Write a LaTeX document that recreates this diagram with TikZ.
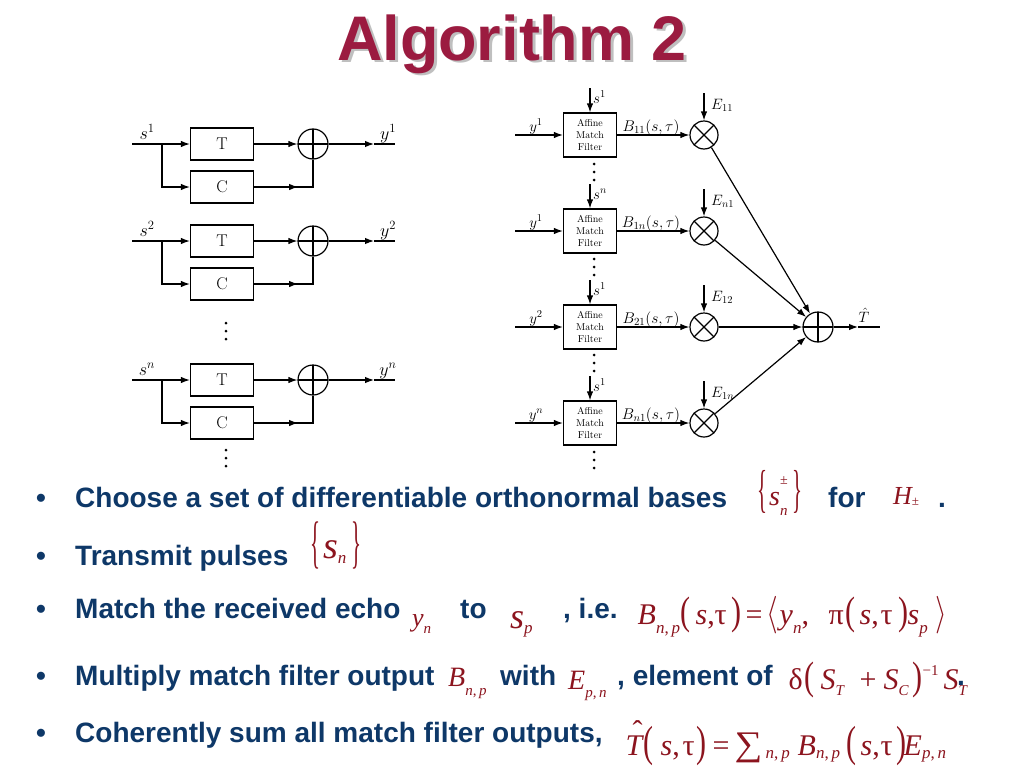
\RequirePackage{fix-cm}
\documentclass[tikz,border=0pt]{standalone}
\usepackage{fontspec}
\usepackage{amsmath}
\usepackage{graphicx}
\usetikzlibrary{arrows.meta,calc}
\newfontfamily\arl{Liberation Sans}
\newfontfamily\tms{Liberation Serif}
\definecolor{ttl}{RGB}{155,27,64}
\definecolor{blu}{RGB}{14,56,104}
\definecolor{mred}{RGB}{140,20,30}
\newcommand\fs[1]{\fontsize{#1}{#1}\selectfont}
\newcommand\I[1]{{\itshape #1}}
\newcommand\sbx[2][-0.35em]{\raisebox{#1}{\fs{15}#2}}
\newcommand\sbX[2][-0.3em]{\raisebox{#1}{\fs{17}#2}}
\newcommand\lpar{\raisebox{-0.03em}{\scalebox{1}[1.32]{(}}}
\newcommand\rpar{\raisebox{-0.03em}{\scalebox{1}[1.32]{)}}}
\newcommand\Lpar{\raisebox{-0.05em}{\scalebox{1}[1.45]{(}}}
\newcommand\Rpar{\raisebox{-0.05em}{\scalebox{1}[1.45]{)}}}
\newcommand\at[2]{\rlap{\hspace{#1pt}#2}}
\begin{document}
\begin{tikzpicture}[x=1pt,y=-1pt,
  ln/.style={line width=1.2pt},
  arr/.style={line width=1.2pt,-{Latex[length=9pt,width=6.5pt]}},
  blk/.style={draw,line width=1.2pt,minimum width=63pt,minimum height=32pt,inner sep=0,font=\fs{17}},
  amf/.style={draw,line width=1.2pt,minimum width=53pt,minimum height=44pt,inner sep=0,align=center,font=\fontsize{10}{12}\selectfont},
  sumc/.style={draw,line width=1.2pt,circle,minimum size=30pt,inner sep=0,
    path picture={\draw[line width=1.2pt] (path picture bounding box.north) -- (path picture bounding box.south) (path picture bounding box.west) -- (path picture bounding box.east);}},
  mulc/.style={draw,line width=1.2pt,circle,minimum size=28pt,inner sep=0,
    path picture={\draw[line width=1.2pt] (path picture bounding box.north west) -- (path picture bounding box.south east) (path picture bounding box.south west) -- (path picture bounding box.north east);}},
  labl/.style={anchor=base,inner sep=0,font=\fs{18}},
  labr/.style={anchor=base west,inner sep=0,font=\fs{15}},
  btxt/.style={anchor=base west,inner sep=0,text=blu,font=\fs{28}\arl\bfseries},
  bul/.style={anchor=base,inner sep=0,text=blu,font=\fs{28}\arl\bfseries},
  mth/.style={anchor=base west,inner sep=0,text=mred,font=\fs{26}\tms},
  mthL/.style={anchor=base west,inner sep=0,text=mred,font=\fs{30}\tms}
]
\useasboundingbox (0,0) rectangle (1024,768);
\fill[white] (0,0) rectangle (1024,768);
% title
\node[anchor=base,inner sep=0,text=black!25,font=\fs{63}\arl\bfseries] (titles) at (515,63) {Algorithm 2};
\node[anchor=base,inner sep=0,text=ttl,font=\fs{63}\arl\bfseries] (title) at (512,60) {Algorithm 2};
% left diagram
\foreach \r/\yt in {1/144,2/241,n/380}{
  \node[blk] (T\r) at (222,\yt) {T};
  \node[blk] (C\r) at (222,\yt+43) {C};
  \node[sumc] (P\r) at (313,\yt) {};
  \coordinate (in\r) at (132,\yt);
  \coordinate (br\r) at (162,\yt);
  \coordinate (m\r) at (374,\yt);
  \coordinate (out\r) at (395,\yt);
  \draw[ln] (in\r) -- (br\r);
  \draw[arr] (br\r) -- (T\r.west);
  \draw[arr] (br\r) |- (C\r.west);
  \draw[arr] (T\r.east) -- (P\r.west);
  \draw[ln] (C\r.east) -| (P\r.south);
  \draw[arr] (C\r.east) -- ++(44,0);
  \draw[arr] (P\r.east) -- (m\r);
  \draw[ln] (m\r) -- (out\r);
  \node[labl] (ls\r) at (147,\yt-5) {$s^{\r}$};
  \node[labl] (ly\r) at (388,\yt-5) {$y^{\r}$};
}
% right diagram
\node[sumc] (S) at (818,327) {};
\foreach \r/\yy/\sv/\yv/\bv/\ev in {1/135/1/1/11/11, 2/231/n/1/1n/n1, 3/327/1/2/21/12, 4/423/1/n/n1/1n}{
  \node[amf] (A\r) at (590,\yy) {Affine\\Match\\Filter};
  \coordinate (yin\r) at (515,\yy);
  \draw[arr] (yin\r) -- (A\r.west);
  \node[labl,font=\fs{15}] (lyr\r) at (536,\yy-4) {$y^{\yv}$};
  \coordinate (st\r) at (590,\yy-47);
  \draw[arr] (st\r) -- (A\r.north);
  \node[labr] (lsr\r) at (593,\yy-32) {$s^{\sv}$};
  \node[mulc] (X\r) at (704,\yy) {};
  \draw[arr] (A\r.east) -- (X\r.west);
  \node[labl,font=\fs{15.5}] (lb\r) at (651,\yy-4) {$B_{\bv}(s,\tau)$};
  \coordinate (et\r) at (704,\yy-42);
  \draw[arr] (et\r) -- (X\r.north);
  \node[labr] (le\r) at (711,\yy-26) {$E_{\ev}$};
  \draw[arr] (X\r) -- (S);
}
\coordinate (Tm) at (858,327);
\coordinate (To) at (880,327);
\draw[arr] (S.east) -- (Tm);
\draw[ln] (Tm) -- (To);
\node[labl,font=\fs{15}] (lT) at (864,322) {$\hat{T}$};
% dots
\foreach \xx/\yy in {226/331,226/458,594/172,594/267,594/363,594/460}{
  \foreach \d in {-8,0,8} \fill (\xx,\yy+\d) circle (1.5pt);
}
% bullets
\foreach \yy in {507,565,618,685,742} \node[bul] at (41,\yy) {•};
\node[btxt] (b1) at (75,507) {Choose a set of differentiable orthonormal bases};
\node[btxt] (b2) at (75,565) {Transmit pulses};
\node[btxt] (b3) at (75,618) {Match the received echo};
\node[btxt] (b4) at (75,685) {Multiply match filter output};
\node[btxt] (b5) at (75,742) {Coherently sum all match filter outputs,};
\node[btxt] (b1a) at (828,507) {for};
\node[btxt] (b1b) at (938,507) {.};
\node[btxt] (b3a) at (460,618) {to};
\node[btxt] (b3b) at (563,618) {, i.e.};
\node[btxt] (b4a) at (500,685) {with};
\node[btxt] (b4b) at (617,685) {, element of};
\node[btxt] (b4c) at (957,685) {.};
% formulas
\node[mth] (f1) at (757,505) {\raisebox{-0.05em}{\scalebox{0.8}[2]{\{}}\hspace{2pt}{\fs{28}\I{s}}\rlap{\raisebox{0.8em}{\fs{14}±}}\raisebox{-0.4em}{\fs{15}\I{n}}\hspace{5pt}\raisebox{-0.05em}{\scalebox{0.8}[2]{\}}}};
\node[mth] (f1h) at (893,504) {\I{H}\raisebox{-0.05em}{\fs{13}±}};
\node[mth] (f2) at (310,558) {\raisebox{-0.15em}{\scalebox{0.8}[2.2]{\{}}\hspace{3pt}{\fs{38}\I{s}}\raisebox{-0.2em}{\fs{17}\I{n}}\hspace{5pt}\raisebox{-0.15em}{\scalebox{0.8}[2.2]{\}}}};
\node[mth] (f3y) at (412,626) {\I{y}\sbx[-0.3em]{\I{n}}};
\node[mth] (f3s) at (510,628) {{\fs{36}\I{s}}\raisebox{-0.2em}{\fs{17}\I{p}}};
\node[mthL] (f3) at (637,624) {\at{0}{\I{B}\sbX{\I{n},\,\I{p}}}\at{43}{\lpar}\at{58}{\I{s},}\at{77}{τ}\at{94}{\rpar}\at{108}{=}\at{129}{\raisebox{-0.03em}{\scalebox{1}[1.25]{$\langle$}}}\at{142}{\I{y}\sbX{\I{n}},}\at{191}{π}\at{208}{\lpar}\at{222}{\I{s},}\at{243}{τ}\at{261}{\rpar}\at{270}{\I{s}\sbX{\I{p}}}\at{298}{\raisebox{-0.03em}{\scalebox{1}[1.25]{$\rangle$}}}};
\node[mth,font=\fs{28}\tms] (f4b) at (448,686) {\I{B}\sbx{\I{n},\,\I{p}}};
\node[mth,font=\fs{28}\tms] (f4e) at (568,689) {\I{E}\sbx[-0.3em]{\I{p},\,\I{n}}};
\node[mth,font=\fs{30}\tms] (f4) at (788,689) {\at{0}{δ}\at{16}{\lpar}\at{32}{\I{S}\sbx[-0.2em]{\I{T}}}\at{71}{+}\at{95}{\I{S}\sbx[-0.2em]{\I{C}}}\at{124}{\rpar}\at{134}{\raisebox{0.45em}{\fs{15}−1}}\at{155}{\I{S}\sbx[-0.2em]{\I{T}}}};
\node[mthL] (f5) at (625,755) {\at{0}{\rlap{\hspace{7pt}\raisebox{0.45em}{ˆ}}\I{T}}\at{18}{\Lpar}\at{35}{\I{s},}\at{57}{τ}\at{71}{\Rpar}\at{87}{=}\at{109}{\raisebox{-0.02em}{\scalebox{1.3}[1.15]{∑}}}\at{140}{\sbX[-0.12em]{\I{n},\,\I{p}}}\at{172}{\I{B}\sbX[-0.12em]{\I{n},\,\I{p}}}\at{221}{\Lpar}\at{235}{\I{s},}\at{255}{τ}\at{271}{\Rpar}\at{278}{\I{E}\sbX[-0.12em]{\I{p},\,\I{n}}}};
\end{tikzpicture}
\end{document}
